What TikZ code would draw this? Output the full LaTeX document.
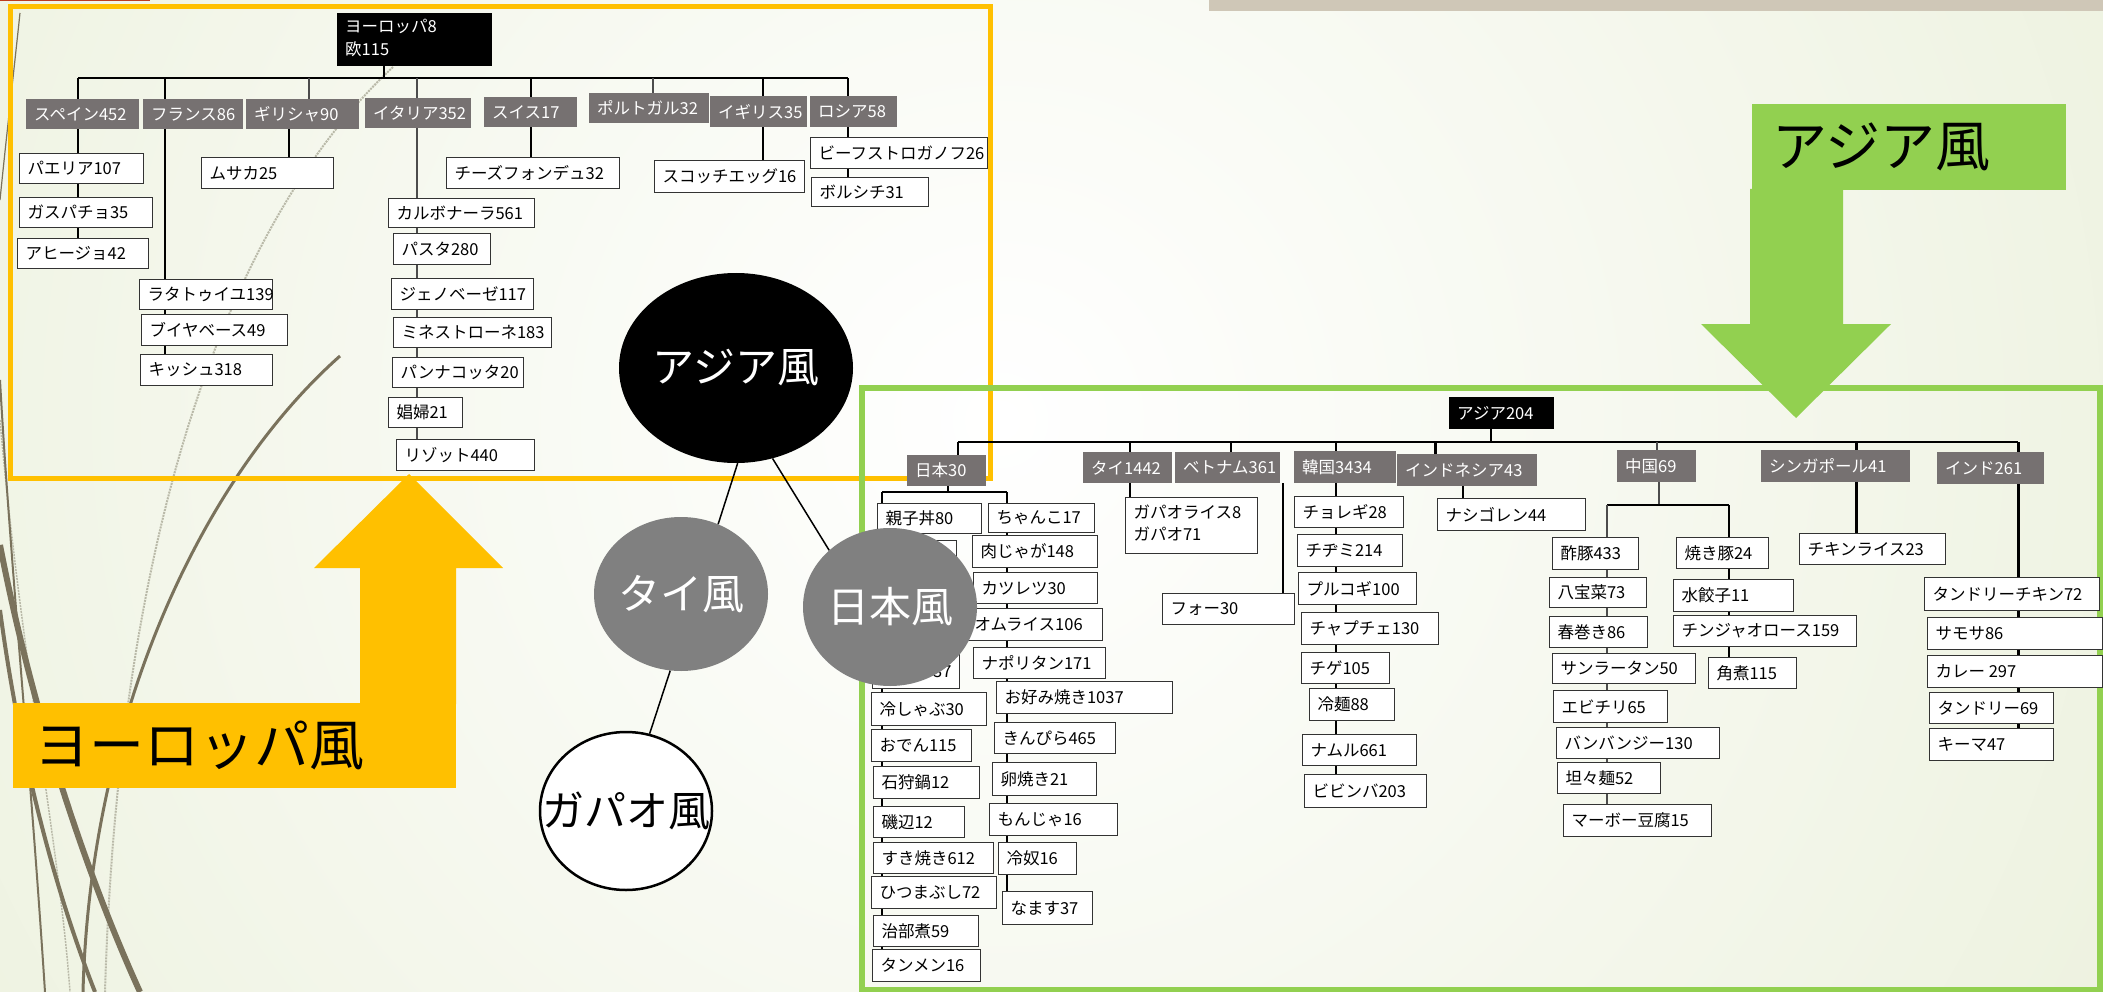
\documentclass[tikz,border=0pt]{standalone}
\usepackage{fontspec}
\setmainfont{Noto Sans CJK JP}
\usetikzlibrary{shapes.geometric}
\definecolor{yel}{HTML}{FFC000}
\definecolor{grn}{HTML}{92D050}
\definecolor{cgray}{HTML}{767171}
\definecolor{circgray}{HTML}{808080}
\definecolor{bggreen}{RGB}{224,232,200}
\definecolor{deco}{RGB}{122,114,92}
\definecolor{faintdeco}{RGB}{185,185,168}
\definecolor{beige}{RGB}{207,199,183}
\definecolor{redline}{RGB}{190,60,30}
\newcommand\fsI{\fontsize{16.5}{20}\selectfont}
\newcommand\fsC{\fontsize{42}{48}\selectfont}
\newcommand\fsL{\fontsize{55}{62}\selectfont}
\pgfdeclarelayer{bg}
\pgfdeclarelayer{lines}
\pgfsetlayers{bg,lines,main}
\newcommand\bx[7]{\pgfmathsetmacro\myW{#5-#3}\pgfmathsetmacro\myH{#6-#4}\pgfmathsetmacro\myT{#5-#3-16}%
\node[#1, minimum width=\myW pt, minimum height=\myH pt] (#2) at (#3,#4) {\makebox[\myT pt][l]{#7}};}
\tikzset{
 ibx/.style={draw=black!80, line width=1.1pt, fill=white, inner xsep=8pt, inner ysep=0pt, anchor=north west, font=\fsI},
 cbx/.style={fill=cgray, text=white, inner xsep=8pt, inner ysep=0pt, anchor=north west, font=\fsI},
 rbx/.style={fill=black, text=white, inner xsep=8pt, inner ysep=0pt, anchor=north west, font=\fsI},
 conn/.style={draw=black, line width=2.2pt},
 thick3/.style={draw=black, line width=3pt},
 thinc/.style={draw=black!70, line width=1.3pt},
 circ/.style={ellipse, inner sep=0pt, font=\fsC},
 cl/.style={draw=black, line width=1.5pt},
}
\begin{document}
\begin{tikzpicture}[x=1pt,y=-1pt]
\useasboundingbox (0,0) rectangle (2103,992);
\begin{pgfonlayer}{bg}
\begin{scope}
\clip (0,0) rectangle (2103,992);
\fill[bggreen] (0,0) rectangle (2103,992);
\shade[inner color=white, outer color=bggreen] (1000,420) circle (2200pt);
\draw[redline, line width=3pt] (0,0) -- (150,0);
\fill[beige] (1209,0) rectangle (2103,11);
% decorative curves
\draw[deco, line width=1.2pt] (20,13) .. controls (14,70) and (6,140) .. (0,200);
\draw[faintdeco, line width=2pt, dash pattern=on 2pt off 1pt] (393,67) .. controls (250,200) and (120,480) .. (105,992);
\draw[faintdeco, line width=1.5pt, dash pattern=on 2pt off 1pt] (0,420) .. controls (20,650) and (60,850) .. (70,992);
\draw[deco, line width=3pt] (340,356) .. controls (200,480) and (90,720) .. (83,992);
\draw[deco, line width=6pt] (0,545) .. controls (30,700) and (80,860) .. (140,992);
\draw[deco, line width=4pt] (0,610) .. controls (20,760) and (55,890) .. (95,992);
\draw[deco, line width=2pt] (0,380) .. controls (10,560) and (30,760) .. (45,992);
\end{scope}
% frames and big arrows
\draw[yel, line width=5pt] (10,7) rectangle (990,478);
\fill[yel] (409,474) -- (503,568) -- (456,568) -- (456,704) -- (360,704) -- (360,568) -- (314,568) -- cycle;
\node[fill=yel, anchor=north west, minimum width=443pt, minimum height=85pt, inner xsep=21pt, inner ysep=0pt, font=\fsL] (eulab) at (13,703) {\makebox[401pt][l]{ヨーロッパ風}};
\draw[grn, line width=6pt] (862,388) rectangle (2100,990);
\fill[grn] (1796,418) -- (1891,324) -- (1843,324) -- (1843,189) -- (1750,189) -- (1750,324) -- (1701,324) -- cycle;
\node[fill=grn, anchor=north west, minimum width=314pt, minimum height=86pt, inner xsep=20pt, inner ysep=0pt, font=\fsL] (aslab) at (1752,104) {\makebox[274pt][l]{アジア風}};
\end{pgfonlayer}

% ---------------- Europe tree ----------------
\bx{rbx}{eu}{337}{13}{492}{66}{\begin{tabular}{@{}l@{}}ヨーロッパ8\\[3pt]欧115\end{tabular}}
\bx{cbx}{sp}{26}{99}{139}{129}{スペイン452}
\bx{cbx}{fr}{143}{99}{243}{129}{フランス86}
\bx{cbx}{gr}{246}{99}{359}{129}{ギリシャ90}
\bx{cbx}{it}{365}{98}{471}{128}{イタリア352}
\bx{cbx}{sw}{484}{97}{577}{127}{スイス17}
\bx{cbx}{pt}{589}{93}{709}{123}{ポルトガル32}
\bx{cbx}{uk}{710}{96}{807}{127}{イギリス35}
\bx{cbx}{ru}{810}{96}{897}{127}{ロシア58}
\bx{ibx}{sp1}{19}{153}{143}{183}{パエリア107}
\bx{ibx}{sp2}{19}{197}{152}{227}{ガスパチョ35}
\bx{ibx}{sp3}{17}{238}{148}{268}{アヒージョ42}
\bx{ibx}{fr1}{139}{279}{272}{309}{ラタトゥイユ139}
\bx{ibx}{fr2}{141}{314}{287}{345}{ブイヤベース49}
\bx{ibx}{fr3}{140}{354}{272}{385}{キッシュ318}
\bx{ibx}{gr1}{201}{157}{333}{188}{ムサカ25}
\bx{ibx}{it1}{388}{198}{534}{227}{カルボナーラ561}
\bx{ibx}{it2}{393}{233}{490}{264}{パスタ280}
\bx{ibx}{it3}{391}{278}{533}{309}{ジェノベーゼ117}
\bx{ibx}{it4}{393}{317}{551}{347}{ミネストローネ183}
\bx{ibx}{it5}{392}{357}{523}{387}{パンナコッタ20}
\bx{ibx}{it6}{388}{397}{462}{427}{娼婦21}
\bx{ibx}{it7}{396}{439}{534}{470}{リゾット440}
\bx{ibx}{sw1}{446}{157}{619}{188}{チーズフォンデュ32}
\bx{ibx}{uk1}{654}{160}{804}{192}{スコッチエッグ16}
\bx{ibx}{ru1}{810}{137}{987}{168}{ビーフストロガノフ26}
\bx{ibx}{ru2}{811}{177}{928}{206}{ボルシチ31}

\coordinate (e0) at (384,78);
\coordinate (e1) at (78,78);
\coordinate (e2) at (165,78);
\coordinate (e3) at (309,78);
\coordinate (e4) at (417,78);
\coordinate (e5) at (531,78);
\coordinate (e6) at (653,78);
\coordinate (e7) at (763,78);
\coordinate (e8) at (848,78);
\coordinate (xgr) at (289,0);
\begin{pgfonlayer}{lines}
\draw[conn] (e1) -- (e8);
\draw[conn] (e0) -- (e0 |- eu.south);
\draw[conn] (e1) -- (e1 |- sp3.north);
\draw[conn] (e2) -- (e2 |- fr3.north);
\draw[thinc] (e3) -- (e3 |- gr.north);
\draw[conn] (xgr |- gr.south) -- (xgr |- gr1.north);
\draw[thinc] (e4) -- (e4 |- it7.north);
\draw[conn] (e5) -- (e5 |- sw1.north);
\draw[thinc] (e6) -- (e6 |- pt.north);
\draw[conn] (e7) -- (e7 |- uk1.north);
\draw[conn] (e8) -- (e8 |- ru2.north);
\end{pgfonlayer}

% ---------------- Asia tree ----------------
\bx{rbx}{as}{1449}{397}{1554}{429}{アジア204}
\bx{cbx}{jp}{907}{455}{986}{486}{日本30}
\bx{cbx}{th}{1083}{452}{1172}{483}{タイ1442}
\bx{cbx}{vn}{1175}{452}{1280}{483}{ベトナム361}
\bx{cbx}{kr}{1294}{451}{1396}{483}{韓国3434}
\bx{cbx}{id}{1397}{454}{1537}{486}{インドネシア43}
\bx{cbx}{cn}{1617}{450}{1696}{482}{中国69}
\bx{cbx}{sg}{1761}{450}{1910}{482}{シンガポール41}
\bx{cbx}{in}{1937}{452}{2044}{484}{インド261}
% Japan left
\bx{ibx}{j1}{877}{503}{981}{533}{親子丼80}
\bx{ibx}{j2}{877}{540}{956}{572}{}
\bx{ibx}{j3}{877}{578}{956}{612}{}
\bx{ibx}{j4}{877}{616}{956}{650}{}
\bx{ibx}{j5}{872}{654}{959}{688}{\hfill 37}
\bx{ibx}{j6}{871}{692}{986}{725}{冷しゃぶ30}
\bx{ibx}{j7}{871}{729}{971}{761}{おでん115}
\bx{ibx}{j8}{873}{766}{979}{798}{石狩鍋12}
\bx{ibx}{j9}{873}{806}{964}{837}{磯辺12}
\bx{ibx}{j10}{873}{842}{993}{873}{すき焼き612}
\bx{ibx}{j11}{871}{876}{996}{908}{ひつまぶし72}
\bx{ibx}{j12}{873}{915}{978}{946}{治部煮59}
\bx{ibx}{j13}{872}{949}{980}{981}{タンメン16}
% Japan right
\bx{ibx}{k1}{988}{503}{1094}{532}{ちゃんこ17}
\bx{ibx}{k2}{972}{535}{1097}{567}{肉じゃが148}
\bx{ibx}{k3}{973}{572}{1097}{603}{カツレツ30}
\bx{ibx}{k4}{966}{608}{1102}{640}{オムライス106}
\bx{ibx}{k5}{973}{647}{1105}{678}{ナポリタン171}
\bx{ibx}{k6}{996}{681}{1172}{713}{お好み焼き1037}
\bx{ibx}{k7}{994}{722}{1115}{753}{きんぴら465}
\bx{ibx}{k8}{992}{762}{1096}{795}{卵焼き21}
\bx{ibx}{k9}{989}{803}{1117}{835}{もんじゃ16}
\bx{ibx}{k10}{998}{842}{1076}{874}{冷奴16}
\bx{ibx}{k11}{1002}{891}{1092}{924}{なます37}
% Thai, Vietnam
\bx{ibx}{ga}{1125}{497}{1257}{553}{\begin{tabular}{@{}l@{}}ガパオライス8\\[2pt]ガパオ71\end{tabular}}
\bx{ibx}{pho}{1162}{593}{1294}{624}{フォー30}
% Korea
\bx{ibx}{kr1}{1294}{496}{1403}{527}{チョレギ28}
\bx{ibx}{kr2}{1297}{534}{1402}{566}{チヂミ214}
\bx{ibx}{kr3}{1298}{572}{1416}{604}{プルコギ100}
\bx{ibx}{kr4}{1301}{612}{1438}{644}{チャプチェ130}
\bx{ibx}{kr5}{1301}{652}{1389}{683}{チゲ105}
\bx{ibx}{kr6}{1309}{688}{1394}{720}{冷麺88}
\bx{ibx}{kr7}{1302}{734}{1416}{765}{ナムル661}
\bx{ibx}{kr8}{1304}{774}{1426}{807}{ビビンバ203}
% Indonesia
\bx{ibx}{id1}{1437}{498}{1585}{530}{ナシゴレン44}
% China
\bx{ibx}{c1}{1552}{537}{1638}{569}{酢豚433}
\bx{ibx}{c2}{1549}{577}{1646}{607}{八宝菜73}
\bx{ibx}{c3}{1549}{616}{1647}{647}{春巻き86}
\bx{ibx}{c4}{1552}{653}{1695}{683}{サンラータン50}
\bx{ibx}{c5}{1553}{690}{1667}{722}{エビチリ65}
\bx{ibx}{c6}{1556}{727}{1719}{758}{バンバンジー130}
\bx{ibx}{c7}{1557}{762}{1660}{793}{坦々麺52}
\bx{ibx}{c8}{1563}{804}{1711}{836}{マーボー豆腐15}
\bx{ibx}{d1}{1676}{537}{1768}{568}{焼き豚24}
\bx{ibx}{d2}{1673}{579}{1793}{611}{水餃子11}
\bx{ibx}{d3}{1673}{615}{1856}{646}{チンジャオロース159}
\bx{ibx}{d4}{1708}{657}{1796}{688}{角煮115}
% Singapore, India
\bx{ibx}{s1}{1799}{533}{1945}{564}{チキンライス23}
\bx{ibx}{n1}{1924}{577}{2099}{610}{タンドリーチキン72}
\bx{ibx}{n2}{1927}{617}{2102}{649}{サモサ86}
\bx{ibx}{n3}{1927}{655}{2102}{687}{カレー 297}
\bx{ibx}{n4}{1929}{692}{2053}{723}{タンドリー69}
\bx{ibx}{n5}{1929}{728}{2053}{760}{キーマ47}

\coordinate (a0) at (1491,442);
\coordinate (aL) at (958,442);
\coordinate (aR) at (2018,442);
\coordinate (ath) at (1130,442);
\coordinate (avn) at (1231,442);
\coordinate (akr) at (1336,442);
\coordinate (aid) at (1435,442);
\coordinate (acn) at (1657,442);
\coordinate (asg) at (1856,442);
\coordinate (xvn) at (1283,0);
\coordinate (xid) at (1463,0);
\coordinate (cb) at (1659,505);
\coordinate (cbL) at (1607,505);
\coordinate (cbR) at (1729,505);
\coordinate (jb) at (948,492);
\coordinate (jbL) at (882,492);
\coordinate (jbR) at (1007,492);
\begin{pgfonlayer}{lines}
\draw[conn] (aL) -- (aR);
\draw[conn] (a0) -- (a0 |- as.south);
\draw[conn] (aL) -- (aL |- jp.north);
\draw[conn] (jb |- jp.south) -- (jb);
\draw[conn] (jbL) -- (jbR);
\draw[conn] (jbL) -- (jbL |- j13.north);
\draw[conn] (jbR) -- (jbR |- k11.north);
\draw[conn] (ath) -- (ath |- ga.north);
\draw[conn] (avn) -- (avn |- vn.north);
\draw[conn] (xvn |- vn.south) -- (xvn |- pho.north);
\draw[conn] (akr) -- (akr |- kr8.north);
\draw[thick3] (aid) -- (aid |- id.north);
\draw[conn] (xid |- id.south) -- (xid |- id1.north);
\draw[thinc] (acn) -- (acn |- cn.north);
\draw[thinc] (cb |- cn.south) -- (cb);
\draw[conn] (cbL) -- (cbR);
\draw[thinc] (cbL) -- (cbL |- c8.north);
\draw[conn] (cbR) -- (cbR |- d4.north);
\draw[thick3] (asg) -- (asg |- s1.north);
\draw[thick3] (aR) -- (aR |- n5.north);
\end{pgfonlayer}

% ---------------- circles ----------------
\node[circ, fill=black, text=white, minimum width=234pt, minimum height=190pt] (asiaC) at (736,368) {\makebox[0pt]{アジア風}};
\node[circ, fill=circgray, text=white, minimum width=174pt, minimum height=154pt] (thaiC) at (681,594) {\makebox[0pt]{タイ風}};
\node[circ, fill=circgray, text=white, minimum width=174pt, minimum height=158pt] (jpC) at (890,607) {\makebox[0pt]{日本風}};
\node[circ, draw=black, line width=2.5pt, fill=white, minimum width=172pt, minimum height=158pt] (gpC) at (626,811) {\makebox[0pt]{ガパオ風}};
\draw[cl] (asiaC.-89) -- (thaiC.62);
\draw[cl] (asiaC.-68) -- (jpC.137);
\draw[cl] (thaiC.-98) -- (gpC.73);
\end{tikzpicture}
\end{document}
